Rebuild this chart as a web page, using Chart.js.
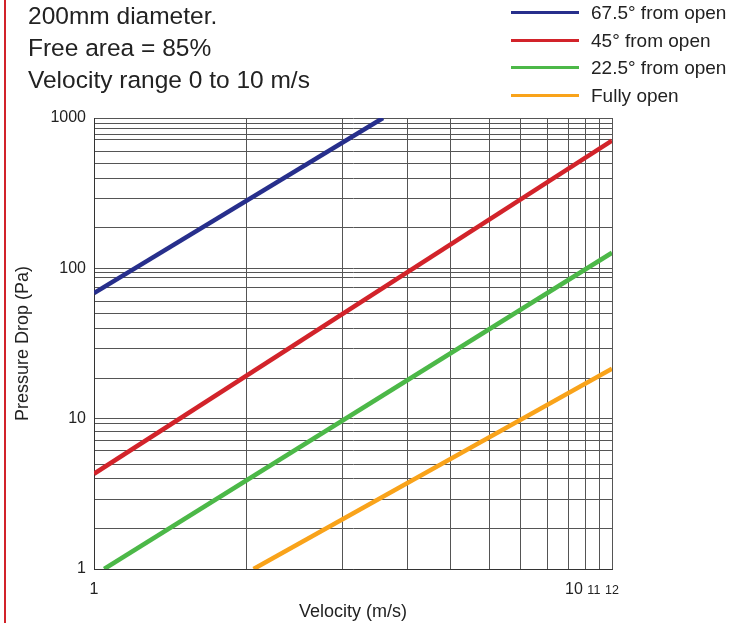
<!DOCTYPE html>
<html>
<head>
<meta charset="utf-8">
<script src="https://cdn.jsdelivr.net/npm/chart.js@4.4.0/dist/chart.umd.min.js"></script>
<style>
  body { margin: 0; background: #fff; font-family: "Liberation Sans", Arial, sans-serif; }
  #wrap { position: relative; width: 745px; height: 623px; overflow: hidden; }
  #redbar { position: absolute; left: 4px; top: 0; width: 2px; height: 623px; background: #d2232a; }
  #info { position: absolute; left: 28px; top: 0; color: #222; font-size: 24.5px; line-height: 32px; }
  #legend { position: absolute; left: 511px; top: 0; color: #222; font-size: 19px; }
  .row { position: absolute; left: 0; height: 28px; white-space: nowrap; }
  .row span.swatch { position: absolute; left: 0; width: 68px; height: 3px; }
  .row span.lbl { position: absolute; left: 80px; line-height: 20px; }
</style>
</head>
<body>
<div id="wrap">
  <canvas id="chart" width="745" height="623"></canvas>
  <div id="redbar"></div>
  <div id="info">
    <div>200mm diameter.</div>
    <div>Free area = 85%</div>
    <div>Velocity range 0 to 10 m/s</div>
  </div>
  <div id="legend"></div>
</div>
<script>
// series (velocity m/s, pressure drop Pa)
const seriesNames = ["67.5° from open", "45° from open", "22.5° from open", "Fully open"];
const seriesColors = ["#272f8c", "#d2232a", "#4cb848", "#f9a31a"];

const velocity675 = [1, 4.0];
const drop675 = [68.5, 1000];
const velocity45 = [1, 12];
const drop45 = [4.3, 707];
const velocity225 = [1.05, 12];
const drop225 = [1, 127];
const velocityOpen = [2.15, 12];
const dropOpen = [1, 21.5];

// grid lines as they sit in the picture (the original grid is hand drawn, not exact)
const xGridLines = [1, 2.08, 3.29, 4.49, 5.54, 6.68, 7.72, 8.79, 9.76, 10.59, 11.28, 12];
const xLabels = [1, 10, 11, 12];
const yGridLines = [1, 1.87, 2.92, 3.99, 4.97, 6.1, 7.14, 8.19, 9.31,
                    10, 18.6, 29.1, 39.9, 49.7, 60, 74.8, 87.2, 93.5,
                    100, 186, 292, 397, 500, 603, 714, 779, 845, 922, 1000];
const yLabels = [1, 10, 100, 1000];

function pts(xs, ys) {
  return xs.map((x, i) => ({ x: x, y: ys[i] }));
}

const allX = [velocity675, velocity45, velocity225, velocityOpen];
const allY = [drop675, drop45, drop225, dropOpen];

const xTickValues = Array.from(new Set(xGridLines.concat(xLabels))).sort((a, b) => a - b);

// legend
const legend = document.getElementById("legend");
seriesNames.forEach((name, i) => {
  const row = document.createElement("div");
  row.className = "row";
  row.style.top = (3 + i * 27.5) + "px";
  row.innerHTML = '<span class="swatch" style="top:8px;background:' + seriesColors[i] + '"></span>' +
    '<span class="lbl">' + name + '</span>';
  legend.appendChild(row);
});

const fontFamily = "'Liberation Sans', Arial, sans-serif";
const ctx = document.getElementById("chart").getContext("2d");
const myChart = new Chart(ctx, {
  type: "line",
  data: {
    datasets: seriesNames.map((name, i) => ({
      label: name,
      data: pts(allX[i], allY[i]),
      borderColor: seriesColors[i],
      borderWidth: 4.5,
      pointRadius: 0,
      fill: false,
      tension: 0,
    })),
  },
  options: {
    responsive: false,
    animation: false,
    layout: { padding: { top: 118, right: 133, left: 0, bottom: 0 } },
    plugins: {
      legend: { display: false },
      tooltip: { enabled: false },
    },
    scales: {
      x: {
        type: "logarithmic",
        min: 1,
        max: 12,
        afterBuildTicks: (scale) => {
          scale.ticks = xTickValues.map((v) => ({ value: v }));
        },
        afterFit: (scale) => {
          scale.height = 54;
        },
        grid: {
          color: (c) => (c.tick && xGridLines.includes(c.tick.value) ? "#555" : "rgba(0,0,0,0)"),
          lineWidth: 1,
          drawTicks: false,
        },
        border: { color: "#333", width: 1 },
        ticks: {
          autoSkip: false,
          maxRotation: 0,
          padding: 11,
          color: "#222",
          font: (c) => (c.tick && c.tick.value > 10
            ? { family: fontFamily, size: 12.5, lineHeight: 1.73 }
            : { family: fontFamily, size: 16, lineHeight: 1.2 }),
          callback: (v) => (xLabels.includes(v) ? String(v) : ""),
        },
        title: {
          display: true,
          text: "Velocity (m/s)",
          color: "#222",
          font: { family: fontFamily, size: 18 },
          padding: { top: 4, bottom: 0 },
        },
      },
      y: {
        type: "logarithmic",
        min: 1,
        max: 1000,
        afterBuildTicks: (scale) => {
          scale.ticks = yGridLines.map((v) => ({ value: v }));
        },
        afterFit: (scale) => {
          scale.width = 94;
        },
        grid: { color: "#555", lineWidth: 1, drawTicks: false },
        border: { color: "#333", width: 1 },
        ticks: {
          autoSkip: false,
          padding: 8,
          color: "#222",
          font: { family: fontFamily, size: 16 },
          callback: (v) => (yLabels.includes(v) ? String(v) : ""),
        },
        title: {
          display: true,
          text: "Pressure Drop (Pa)",
          color: "#222",
          font: { family: fontFamily, size: 18 },
          padding: { top: 12, bottom: 0 },
        },
      },
    },
  },
});
</script>
</body>
</html>
